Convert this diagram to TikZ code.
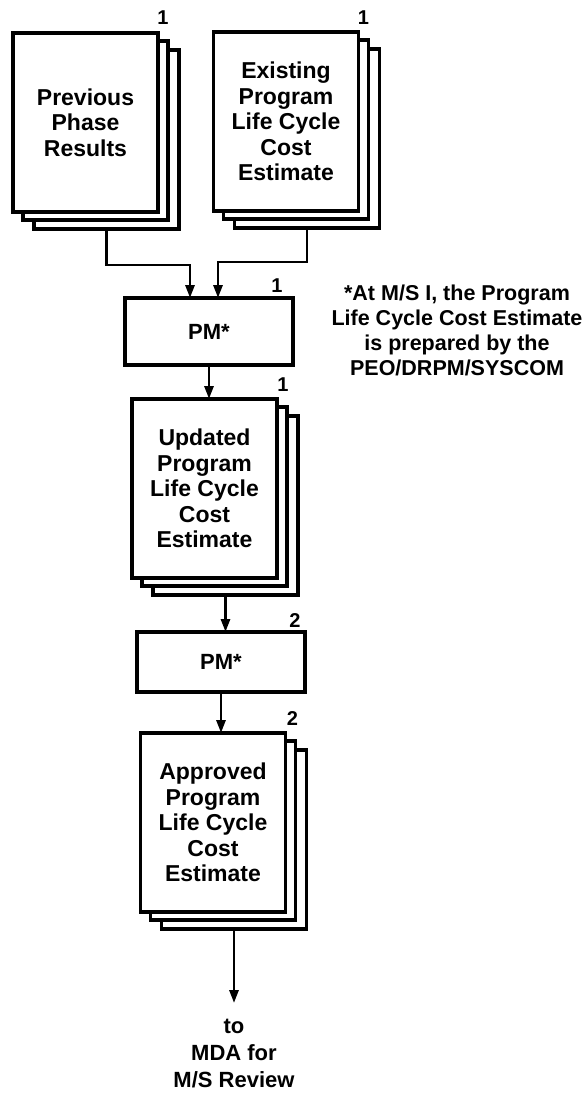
\documentclass[tikz,border=0pt]{standalone}
\usepackage{fontspec}
\setmainfont{Liberation Sans}
\usetikzlibrary{arrows.meta,backgrounds,calc}
\newcommand\pagestack[1]{%
  \begin{scope}[on background layer]
    \draw[backpage] ($(#1.north west)+(21,17)$) rectangle ($(#1.south east)+(21,17)$);
    \draw[backpage] ($(#1.north west)+(10,8)$) rectangle ($(#1.south east)+(10,8)$);
  \end{scope}%
  \coordinate (#1-out) at ($(#1.south)+(21,17)$);}
\begin{document}
\begin{tikzpicture}[x=1pt,y=-1pt,
  page/.style={draw, line width=3.6pt, fill=white, minimum width=145pt, minimum height=179pt,
    inner sep=0pt, outer sep=0pt, align=center, font=\fontsize{23}{25.5}\selectfont\bfseries},
  backpage/.style={draw, line width=3.4pt, fill=white},
  pmbox/.style={draw, line width=3.6pt, fill=white, minimum width=168pt, inner sep=0pt,
    outer sep=0pt, font=\fontsize{22}{26}\selectfont\bfseries},
  num/.style={font=\fontsize{20}{22}\selectfont\bfseries, inner sep=0pt},
  arr/.style={line width=2.8pt, -{Triangle[length=13pt,width=9pt]}},
  txt/.style={align=center, inner sep=0pt},
]
\useasboundingbox (0,0) rectangle (588,1098);
\begin{scope}[on background layer]
  \fill[white] (0,0) rectangle (588,1098);
\end{scope}

\node[page] (prev) at (85.5,122.5) {Previous\\Phase\\Results};
\pagestack{prev}
\node[page] (exist) at (286,121.5) {Existing\\Program\\Life Cycle\\Cost\\Estimate};
\pagestack{exist}
\node[pmbox, minimum height=67pt] (pm1) at (209,331.5) {PM*};
\node[page] (upd) at (204.5,488.5) {Updated\\Program\\Life Cycle\\Cost\\Estimate};
\pagestack{upd}
\node[pmbox, minimum height=60pt] (pm2) at (221,662) {PM*};
\node[page] (appr) at (213,822.5) {Approved\\Program\\Life Cycle\\Cost\\Estimate};
\pagestack{appr}

\node[txt, anchor=north, font=\fontsize{22}{27}\selectfont\bfseries] (mda) at (234,1019) {to\\MDA for\\M/S Review};
\node[txt, font=\fontsize{21.5}{25}\selectfont\bfseries] (note) at (457,330)
  {*At M/S I, the Program\\Life Cycle Cost Estimate\\is prepared by the\\PEO/DRPM/SYSCOM};

\node[num] (l1) at ($(prev.north east)+(5,-15)$) {1};
\node[num] (l2) at ($(exist.north east)+(5,-14)$) {1};
\node[num] (l3) at ($(pm1.north east)+(-16,-12)$) {1};
\node[num] (l4) at ($(upd.north east)+(6,-14)$) {1};
\node[num] (l5) at ($(pm2.north east)+(-10,-11)$) {2};
\node[num] (l6) at ($(appr.north east)+(7,-14)$) {2};

\draw[arr] (prev-out) -- ++(0,36) -| ($(pm1.north)+(-19,0)$);
\draw[arr] (exist-out) -- ++(0,34) -| ($(pm1.north)+(9,0)$);
\draw[arr] (pm1.south) -- (pm1.south |- upd.north);
\draw[arr] (upd-out) -- (upd-out |- pm2.north);
\draw[arr] (pm2.south) -- (pm2.south |- appr.north);
\draw[arr, shorten >=16pt] (appr-out) -- (appr-out |- mda.north);
\end{tikzpicture}
\end{document}
